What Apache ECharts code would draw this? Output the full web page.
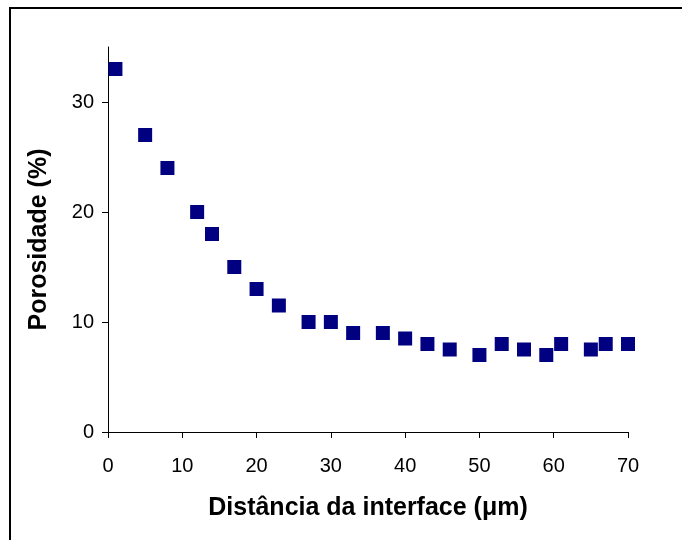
<!DOCTYPE html>
<html>
<head>
<meta charset="utf-8">
<script src="https://cdn.jsdelivr.net/npm/echarts@6/dist/echarts.min.js"></script>
<style>
  html, body { margin: 0; padding: 0; background: #fff; }
  #chart { width: 682px; height: 540px; }
</style>
</head>
<body>
<div id="chart"></div>
<script>
// distância (µm) e porosidade (%)
const distancia = [1, 5, 8, 12, 14, 17, 20, 23, 27, 30, 33, 37, 40, 43, 46, 50, 53, 56, 59, 61, 65, 67, 70]
const porosidade = [33, 27, 24, 20, 18, 15, 13, 11.5, 10, 10, 9, 9, 8.5, 8, 7.5, 7, 8, 7.5, 7, 8, 7.5, 8, 8]
const yTicks = [0, 10, 20, 30]

const fonte = '"Liberation Sans", Arial, sans-serif'

const chart = echarts.init(document.getElementById('chart'))

chart.setOption({
  animation: false,
  backgroundColor: '#fff',
  graphic: [{
    type: 'rect',
    shape: { x: 10, y: 8, width: 700, height: 600 },
    style: { fill: 'none', stroke: '#000', lineWidth: 2 },
    silent: true
  }],
  grid: { left: 108, right: 54, top: 47, bottom: 108 },
  xAxis: {
    type: 'value',
    min: 0,
    max: 70,
    interval: 10,
    name: 'Distância da interface (μm)',
    nameLocation: 'middle',
    nameGap: 64,
    nameTextStyle: { fontFamily: fonte, fontSize: 25, fontWeight: 'bold', color: '#000' },
    axisLine: { lineStyle: { color: '#000', width: 1 } },
    axisTick: { show: true, length: 6, lineStyle: { color: '#000' } },
    axisLabel: { fontFamily: fonte, fontSize: 20, color: '#000', margin: 24 },
    splitLine: { show: false }
  },
  yAxis: {
    type: 'value',
    min: 0,
    max: 35,
    interval: 10,
    name: 'Porosidade (%)',
    nameLocation: 'middle',
    nameGap: 56,
    nameRotate: 90,
    nameTextStyle: { fontFamily: fonte, fontSize: 25, fontWeight: 'bold', color: '#000' },
    axisLine: { show: true, lineStyle: { color: '#000', width: 1 } },
    axisTick: { show: true, length: 6, lineStyle: { color: '#000' }, customValues: yTicks },
    axisLabel: { fontFamily: fonte, fontSize: 20, color: '#000', margin: 14, customValues: yTicks },
    splitLine: { show: false }
  },
  series: [{
    type: 'scatter',
    symbol: 'rect',
    symbolSize: 14,
    itemStyle: { color: '#000080', opacity: 1 },
    data: distancia.map((d, i) => [d, porosidade[i]])
  }]
})
</script>
</body>
</html>
